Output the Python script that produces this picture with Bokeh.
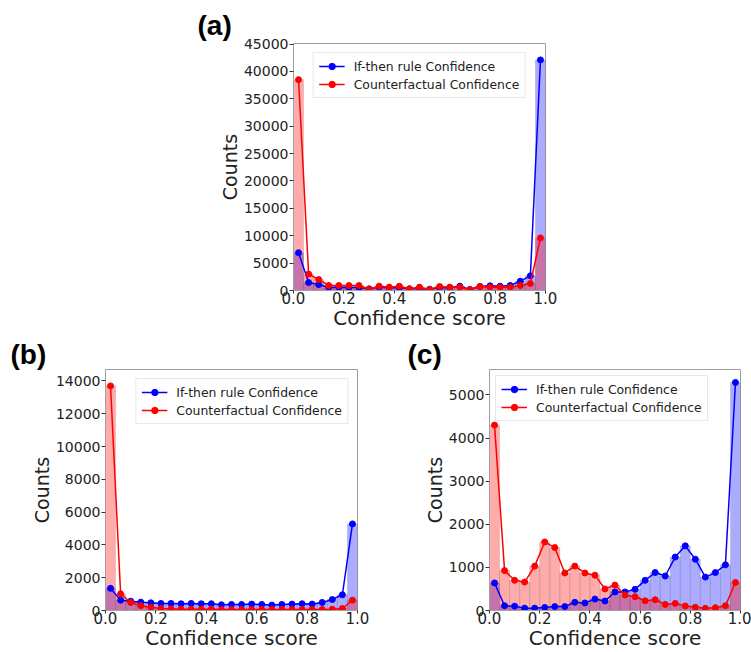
from bokeh.plotting import figure
from bokeh.layouts import column, row, Spacer
from bokeh.models import (FixedTicker, NumeralTickFormatter, Legend, LegendItem,
                          Range1d)
from bokeh.embed import file_html
from bokeh.resources import INLINE

# ---------------- data ----------------
bin_centers = [0.02, 0.06, 0.10, 0.14, 0.18, 0.22, 0.26, 0.30, 0.34, 0.38,
               0.42, 0.46, 0.50, 0.54, 0.58, 0.62, 0.66, 0.70, 0.74, 0.78,
               0.82, 0.86, 0.90, 0.94, 0.98]
bin_width = 0.04

a_rule = [6900, 1450, 1080, 560, 600, 550, 550, 300, 600, 500, 550, 300, 430,
          240, 550, 490, 790, 180, 730, 850, 790, 910, 1700, 2680, 42100]
a_cf = [38500, 2990, 2010, 910, 910, 910, 910, 240, 790, 610, 790, 300, 610,
        180, 730, 610, 610, 180, 730, 610, 610, 610, 910, 1280, 9600]

b_rule = [1350, 630, 570, 510, 470, 430, 430, 410, 430, 410, 410, 350, 370,
          370, 390, 370, 330, 370, 390, 410, 390, 490, 670, 960, 5280]
b_cf = [13700, 1020, 490, 290, 200, 120, 100, 80, 80, 80, 80, 60, 60,
        60, 60, 60, 60, 60, 60, 60, 60, 60, 80, 120, 630]

c_rule = [640, 110, 100, 55, 55, 70, 90, 90, 190, 175, 265, 220, 430,
          430, 490, 700, 880, 800, 1240, 1500, 1190, 775, 880, 1060, 5290]
c_cf = [4300, 925, 700, 660, 1030, 1590, 1460, 870, 1030, 870, 820, 500, 590,
        360, 320, 225, 250, 140, 165, 105, 75, 50, 65, 110, 650]

x_ticks = [0.0, 0.2, 0.4, 0.6, 0.8, 1.0]
a_yticks = [0, 5000, 10000, 15000, 20000, 25000, 30000, 35000, 40000, 45000]
b_yticks = [0, 2000, 4000, 6000, 8000, 10000, 12000, 14000]
c_yticks = [0, 1000, 2000, 3000, 4000, 5000]

series_names = ["If-then rule Confidence", "Counterfactual Confidence"]
x_label = "Confidence score"
y_label = "Counts"

BLUE = "#0000ff"
RED = "#ff0000"
FONT = "DejaVu Sans"


def make_panel(rule, cf, y_end, yticks, letter, legend_loc, legend_margin,
               width, height, bl, br, bt, bb, lab_dx, lab_standoff):
    p = figure(width=width, height=height, output_backend="svg",
               toolbar_location=None, x_range=Range1d(0, 1),
               y_range=Range1d(0, y_end),
               min_border_left=bl, min_border_right=br,
               min_border_top=bt, min_border_bottom=bb)
    p.grid.visible = False
    p.outline_line_color = "#a0a0a0"
    p.outline_line_width = 1
    p.background_fill_color = "white"
    p.border_fill_color = "white"

    # panel letter as the title, shifted to the left of the frame
    p.title.text = letter
    p.title.align = "left"
    p.title.offset = lab_dx
    p.title.standoff = lab_standoff
    p.title.text_font = "Liberation Sans"
    p.title.text_font_style = "bold"
    p.title.text_font_size = "28px"
    p.title.text_color = "black"

    # histogram bars
    p.vbar(x=bin_centers, width=bin_width, top=rule, bottom=0,
           fill_color=BLUE, fill_alpha=0.33, line_color="#777777",
           line_alpha=0.35, line_width=0.6)
    p.vbar(x=bin_centers, width=bin_width, top=cf, bottom=0,
           fill_color=RED, fill_alpha=0.33, line_color="#777777",
           line_alpha=0.35, line_width=0.6)

    l1 = p.line(bin_centers, rule, line_color=BLUE, line_width=1.5)
    s1 = p.scatter(bin_centers, rule, marker="circle", size=6,
                   fill_color=BLUE, line_color=BLUE)
    l2 = p.line(bin_centers, cf, line_color=RED, line_width=1.5)
    s2 = p.scatter(bin_centers, cf, marker="circle", size=6,
                   fill_color=RED, line_color=RED)

    legend = Legend(items=[LegendItem(label=series_names[0], renderers=[l1, s1]),
                           LegendItem(label=series_names[1], renderers=[l2, s2])],
                    location=legend_loc, margin=legend_margin,
                    label_text_font=FONT, label_text_font_size="12.4px",
                    label_text_color="#222222",
                    label_height=16, glyph_height=16, glyph_width=26,
                    label_standoff=9, padding=5, spacing=2,
                    border_line_color="#d0d0d0", border_line_width=1,
                    background_fill_alpha=0.85)
    p.add_layout(legend, "center")

    for ax in (p.xaxis[0], p.yaxis[0]):
        ax.axis_line_color = "#a0a0a0"
        ax.major_tick_line_color = "#333333"
        ax.major_tick_in = 0
        ax.major_tick_out = 4
        ax.minor_tick_line_color = None
        ax.major_label_text_font = FONT
        ax.major_label_text_font_size = "14px"
        ax.major_label_text_color = "#222222"
        ax.major_label_standoff = 1
        ax.axis_label_text_font = FONT
        ax.axis_label_text_font_size = "19px"
        ax.axis_label_text_font_style = "normal"
        ax.axis_label_text_color = "#222222"
        ax.axis_label_standoff = 0

    xa = p.xaxis[0]
    xa.ticker = FixedTicker(ticks=x_ticks)
    xa.formatter = NumeralTickFormatter(format="0.0")
    xa.axis_label = x_label
    xa.major_tick_out = 3
    xa.major_label_standoff = -2
    xa.major_label_text_font_size = "15px"
    xa.axis_label_text_font_size = "20px"
    xa.axis_label_standoff = -1

    ya = p.yaxis[0]
    ya.ticker = FixedTicker(ticks=yticks)
    ya.formatter = NumeralTickFormatter(format="0")
    ya.axis_label = y_label
    return p


pa = make_panel(a_rule, a_cf, 45100, a_yticks, "(a)", "top_center", 9,
                380, 335, 113, 15, 43, 45, -96, 5)
pb = make_panel(b_rule, b_cf, 14700, b_yticks, "(b)", "top_right", 9,
                390, 317, 105, 33, 30, 41, -95, 0)
pc = make_panel(c_rule, c_cf, 5590, c_yticks, "(c)", "top_left", 6,
                361, 317, 99, 11, 34, 41, -82, 0)

layout = column(row(Spacer(width=180, height=335), pa), row(pb, pc))

open("out.html", "w").write(file_html(layout, INLINE))
